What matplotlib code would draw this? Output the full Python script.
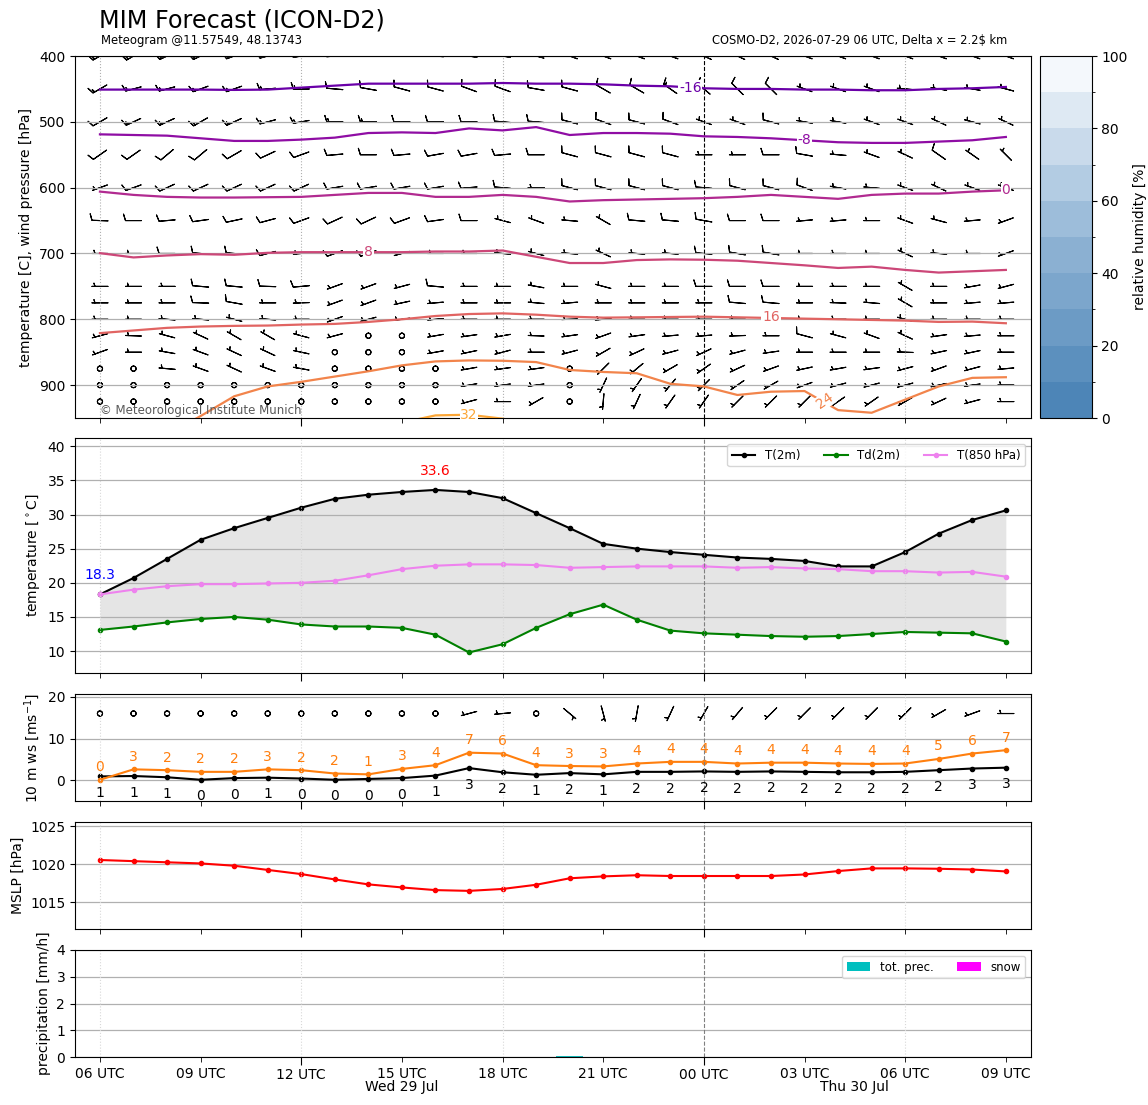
import numpy as np
import pandas as pd
import matplotlib
matplotlib.use("Agg")
import matplotlib.pyplot as plt
import matplotlib.dates as mdates
from matplotlib.colors import LinearSegmentedColormap, BoundaryNorm, Normalize
from matplotlib.cm import ScalarMappable

# --- data ------------------------------------------------------------------
times = pd.date_range("2026-07-29 06:00", periods=28, freq="h")

t2m = [18.3, 20.7, 23.5, 26.3, 28.0, 29.5, 31.0, 32.3, 32.9, 33.3, 33.6, 33.3, 32.4, 30.2,
       28.0, 25.7, 25.0, 24.5, 24.1, 23.7, 23.5, 23.2, 22.4, 22.4, 24.5, 27.2, 29.2, 30.6]
td2m = [13.1, 13.6, 14.2, 14.7, 15.0, 14.6, 13.9, 13.6, 13.6, 13.4, 12.4, 9.8, 11.0, 13.4,
        15.4, 16.8, 14.6, 13.0, 12.6, 12.4, 12.2, 12.1, 12.2, 12.5, 12.8, 12.7, 12.6, 11.4]
t850 = [18.3, 19.0, 19.5, 19.8, 19.8, 19.9, 20.0, 20.3, 21.1, 22.0, 22.5, 22.7, 22.7, 22.6,
        22.2, 22.3, 22.4, 22.4, 22.4, 22.2, 22.3, 22.1, 22.0, 21.7, 21.7, 21.5, 21.6, 20.9]

ws10 = [0.9, 1.0, 0.7, 0.1, 0.5, 0.6, 0.4, 0.1, 0.3, 0.5, 1.1, 2.9, 1.9, 1.3,
        1.7, 1.4, 2.0, 2.0, 2.1, 2.0, 2.1, 2.0, 1.9, 1.9, 2.0, 2.4, 2.8, 3.0]
gust10 = [0.1, 2.6, 2.4, 2.0, 2.0, 2.6, 2.4, 1.6, 1.4, 2.7, 3.6, 6.6, 6.4, 3.6,
          3.4, 3.3, 4.0, 4.4, 4.4, 4.0, 4.2, 4.2, 4.0, 3.9, 4.0, 5.1, 6.4, 7.2]
# 10 m barbs: direction [deg] and barb speed [kt]
wdir10 = [270, 270, 270, 270, 270, 270, 270, 270, 270, 270, 270, 255, 265, 270,
          130, 165, 190, 205, 210, 220, 225, 225, 225, 225, 225, 240, 250, 270]
wkt10 = [2, 2, 2, 2, 2, 2, 2, 2, 2, 2, 2, 6, 6, 2,
         6, 6, 6, 6, 6, 6, 6, 6, 6, 6, 6, 6, 6, 6]

mslp = [1020.55, 1020.4, 1020.25, 1020.1, 1019.8, 1019.25, 1018.7, 1018.0, 1017.35, 1016.95,
        1016.6, 1016.5, 1016.75, 1017.3, 1018.15, 1018.4, 1018.55, 1018.45, 1018.45, 1018.45,
        1018.45, 1018.65, 1019.1, 1019.45, 1019.45, 1019.4, 1019.3, 1019.05]

precip = [0, 0, 0, 0, 0, 0, 0, 0, 0, 0, 0, 0, 0, 0, 0.03, 0, 0, 0, 0, 0, 0, 0, 0, 0, 0, 0, 0, 0]
snow = [0] * 28

# isotherms: pressure [hPa] of each temperature level at every hour
iso_levels = [-16, -8, 0, 8, 16, 24, 32]
iso_m16 = [451, 451, 451, 451, 451.5, 451, 448, 445, 442, 442, 442, 442, 441, 442,
           442, 443, 445, 446, 449, 450, 450, 451, 451, 452, 452, 450, 449, 447]
iso_m8 = [519, 520, 521, 525, 529, 529, 527, 524, 517, 516, 517, 510, 513, 508,
          520, 517, 517, 518, 522, 523, 525, 528, 531, 532, 532, 530, 528, 523]
iso_0 = [606, 611, 614, 615, 615, 614.5, 614, 611, 608, 608, 614, 614, 611, 614,
         621, 619, 618, 617, 616, 614, 611, 614, 617, 611, 609, 609, 606, 604]
iso_8 = [699.5, 706, 703, 701, 702, 699, 698, 698, 698, 698, 697, 697, 695.5, 705,
         714.5, 714.5, 710, 709, 709.5, 711, 714.5, 718, 722, 720, 725, 729, 727, 725]
iso_16 = [821, 817, 813, 811, 810, 809.5, 808, 807, 804, 800, 795, 792, 791, 793,
          796, 797.5, 797, 796.5, 796, 797, 798, 799, 800, 801, 802, 804, 803.5, 806]
iso_24 = [990, 985, 975, 947, 917, 902, 895, 887, 879, 870, 864, 862.5, 863, 865,
          877, 880, 882, 898, 902, 915, 910, 909, 938, 942, 922, 902, 889, 888]
iso_32 = [1000, 995, 990, 985, 975, 970, 968, 965, 962, 957, 946, 945, 951, 962,
          975, 985, 990, 995, 1000, 1000, 1000, 1000, 1000, 1000, 1000, 1000, 1000, 1000]
iso_lines = [iso_m16, iso_m8, iso_0, iso_8, iso_16, iso_24, iso_32]
# label position (hour after start, pressure, rotation)
iso_labels = [(17.6, 448, 0), (21.0, 527, 0), (27.0, 604, 0), (8.0, 698, 0),
              (20.0, 797, 0), (21.6, 924, 35), (11.0, 945, 0)]

# upper-air wind: direction [deg] and speed [kt] per pressure level
levels = [400, 450, 500, 550, 600, 650, 700, 750, 775, 800, 825, 850, 875, 900, 925]
wdir = [
    [240, 240, 245, 245, 250, 255, 260, 265, 270, 270, 275, 280, 280, 285, 290, 290, 290, 290, 295, 295, 295, 290, 290, 290, 290, 290, 290, 290],
    [240, 255, 255, 250, 250, 265, 270, 275, 280, 285, 285, 290, 290, 280, 285, 300, 300, 305, 310, 315, 315, 290, 290, 290, 275, 280, 280, 285],
    [240, 245, 245, 240, 245, 255, 260, 270, 270, 270, 270, 270, 275, 275, 285, 290, 285, 290, 290, 290, 285, 280, 280, 290, 290, 295, 285, 295],
    [235, 235, 230, 230, 240, 245, 250, 265, 270, 265, 260, 260, 265, 270, 285, 285, 285, 285, 270, 270, 270, 280, 275, 290, 295, 305, 305, 315],
    [250, 250, 245, 245, 245, 245, 245, 260, 260, 260, 260, 265, 275, 270, 285, 285, 285, 285, 275, 285, 285, 290, 280, 275, 290, 295, 290, 290],
    [272, 270, 265, 262, 258, 255, 250, 245, 245, 250, 262, 270, 285, 290, 275, 300, 275, 275, 280, 270, 270, 265, 265, 270, 290, 285, 265, 250],
    [270, 270, 270, 275, 275, 255, 265, 250, 250, 255, 270, 270, 275, 285, 275, 295, 275, 275, 275, 280, 280, 270, 270, 270, 295, 275, 270, 250],
    [270, 270, 270, 275, 275, 272, 265, 250, 250, 255, 275, 270, 270, 280, 270, 285, 270, 270, 270, 270, 270, 270, 270, 270, 300, 270, 260, 255],
    [270, 270, 270, 272, 280, 270, 268, 250, 250, 258, 265, 270, 270, 275, 265, 270, 270, 270, 270, 275, 275, 270, 272, 275, 300, 270, 265, 265],
    [270, 270, 275, 275, 285, 275, 270, 250, 255, 262, 265, 270, 270, 270, 268, 265, 270, 270, 270, 270, 270, 270, 270, 270, 285, 270, 270, 270],
    [255, 272, 285, 295, 300, 300, 285, 255, 270, 270, 260, 262, 260, 272, 262, 250, 262, 265, 265, 268, 270, 285, 285, 290, 295, 262, 265, 270],
    [250, 270, 280, 290, 295, 295, 282, 270, 270, 270, 260, 258, 255, 270, 255, 240, 245, 255, 245, 255, 262, 270, 270, 270, 272, 258, 258, 270],
    [270, 270, 275, 290, 295, 290, 280, 270, 270, 270, 270, 260, 262, 262, 270, 225, 230, 240, 235, 245, 250, 258, 260, 262, 255, 250, 255, 265],
    [270, 270, 270, 270, 270, 270, 270, 270, 270, 270, 270, 260, 262, 262, 270, 205, 215, 220, 225, 235, 240, 250, 255, 255, 255, 258, 262, 270],
    [270, 270, 270, 270, 270, 270, 270, 270, 270, 270, 270, 255, 270, 240, 270, 185, 205, 215, 215, 225, 225, 225, 235, 235, 240, 245, 255, 270],
]
wspd = [
    [17, 17, 17, 17, 17, 17, 17, 12, 12, 12, 12, 12, 12, 12, 12, 12, 12, 12, 12, 12, 12, 12, 12, 12, 12, 12, 12, 12],
    [17, 17, 17, 17, 17, 17, 17, 12, 12, 12, 12, 12, 12, 12, 12, 12, 12, 17, 12, 12, 12, 7, 7, 7, 7, 7, 7, 7],
    [12, 17, 17, 17, 17, 17, 17, 17, 17, 12, 12, 12, 12, 12, 12, 12, 12, 12, 7, 7, 12, 7, 7, 7, 7, 7, 7, 7],
    [12, 12, 12, 12, 12, 12, 12, 12, 12, 12, 12, 12, 12, 12, 12, 12, 12, 12, 7, 7, 12, 12, 7, 7, 7, 12, 7, 7],
    [7, 12, 12, 12, 12, 12, 12, 12, 12, 12, 12, 12, 12, 7, 12, 12, 12, 12, 12, 12, 12, 12, 7, 7, 7, 7, 7, 7],
    [12, 12, 12, 12, 12, 12, 12, 12, 12, 12, 12, 12, 7, 7, 7, 7, 12, 12, 12, 12, 12, 7, 7, 7, 7, 7, 7, 7],
    [7, 7, 12, 12, 12, 12, 7, 12, 12, 7, 7, 7, 7, 7, 7, 7, 7, 7, 12, 12, 12, 7, 7, 7, 7, 7, 7, 7],
    [7, 7, 7, 12, 12, 12, 12, 7, 7, 7, 12, 7, 7, 7, 7, 7, 7, 7, 12, 12, 12, 7, 7, 7, 7, 7, 7, 7],
    [7, 7, 7, 12, 12, 7, 7, 7, 7, 7, 7, 7, 7, 7, 7, 7, 7, 7, 7, 12, 12, 7, 7, 7, 7, 7, 7, 7],
    [7, 7, 7, 7, 7, 7, 7, 7, 7, 7, 7, 7, 7, 7, 7, 7, 7, 7, 7, 7, 7, 7, 7, 7, 7, 7, 7, 7],
    [7, 7, 7, 7, 7, 7, 7, 7, 2, 2, 7, 7, 7, 7, 7, 7, 7, 7, 7, 7, 7, 12, 7, 7, 7, 7, 7, 7],
    [7, 7, 7, 7, 7, 7, 7, 2, 2, 2, 7, 7, 7, 7, 7, 7, 7, 7, 7, 7, 7, 7, 7, 7, 7, 7, 7, 7],
    [2, 2, 7, 7, 7, 7, 7, 2, 2, 2, 2, 7, 7, 7, 2, 7, 7, 7, 7, 7, 7, 7, 7, 7, 7, 7, 7, 7],
    [2, 2, 2, 2, 2, 2, 2, 2, 2, 2, 2, 7, 7, 7, 2, 7, 7, 7, 7, 7, 7, 7, 7, 7, 7, 7, 7, 7],
    [2, 2, 2, 2, 2, 2, 2, 2, 2, 2, 2, 7, 7, 7, 2, 7, 7, 7, 7, 7, 7, 7, 7, 7, 7, 7, 7, 7],
]

rh_levels = [0, 10, 20, 30, 40, 50, 60, 70, 80, 90, 100]

# --- figure ---------------------------------------------------------------
tnum = mdates.date2num(times)
hour = 1.0 / 24
xlim = (tnum[0] - 0.745 * hour, tnum[0] + 27.75 * hour)
barb_len = 4.8
barb_sizes = dict(emptybarb=0.16)

fig = plt.figure(figsize=(11.48, 11.05), dpi=100)
L, W = 0.0653, 0.8328
ax1 = fig.add_axes([L, 0.6217, W, 0.3276])
cax = fig.add_axes([0.906, 0.6217, 0.045, 0.3276])
ax2 = fig.add_axes([L, 0.391, W, 0.2126])
ax3 = fig.add_axes([L, 0.2751, W, 0.0969])
ax4 = fig.add_axes([L, 0.1593, W, 0.0969])
ax5 = fig.add_axes([L, 0.0434, W, 0.0969])
axes = [ax1, ax2, ax3, ax4, ax5]

fig.text(0.086, 0.981, "MIM Forecast (ICON-D2)", fontsize=17.2, va="center")
fig.text(0.088, 0.963, "Meteogram @11.57549, 48.13743", fontsize=8.4, va="center")
fig.text(0.877, 0.963, "COSMO-D2, 2026-07-29 06 UTC, Delta x = 2.2$ km",
         fontsize=8.3, va="center", ha="right")

# panel 1: isotherms + wind barbs
norm_t = Normalize(-32, 48)
for lev, pres, (lh, lp, rot) in zip(iso_levels, iso_lines, iso_labels):
    col = plt.cm.plasma(norm_t(lev))
    ax1.plot(tnum, pres, color=col, lw=1.6, zorder=3)
    ax1.text(tnum[0] + lh * hour, lp, str(lev), color=col, fontsize=10, rotation=rot,
             ha="center", va="center", zorder=4,
             bbox=dict(facecolor="white", edgecolor="none", pad=0.5))

X, Y = np.meshgrid(tnum, levels)
d = np.radians(np.array(wdir, dtype=float))
s = np.array(wspd, dtype=float)
ax1.barbs(X, Y, -s * np.sin(d), -s * np.cos(d), length=barb_len, pivot="middle",
          sizes=barb_sizes, linewidth=0.8, color="black")
ax1.set_ylim(950, 400)
ax1.set_yticks([400, 500, 600, 700, 800, 900])
ax1.set_ylabel("temperature [C], wind pressure [hPa]", fontsize=10)
ax1.yaxis.grid(True, color="#b0b0b0", lw=0.9)
ax1.text(0.026, 0.022, "\u00a9 Meteorological Institute Munich", transform=ax1.transAxes,
         fontsize=8.5, color="0.35", va="center", zorder=5)

cmap_rh = LinearSegmentedColormap.from_list("rh", ["#4d85b7", "#93b6d6", "#f4f8fc"])
sm = ScalarMappable(norm=BoundaryNorm(rh_levels, 256), cmap=cmap_rh)
cb = fig.colorbar(sm, cax=cax, ticks=[0, 20, 40, 60, 80, 100])
cb.set_label("relative humidity [%]", fontsize=10)

# panel 2: temperatures
ax2.fill_between(tnum, t2m, td2m, color="gray", alpha=0.2, lw=0)
ax2.plot(tnum, t2m, color="black", marker=".", lw=1.5, label="T(2m)")
ax2.plot(tnum, td2m, color="green", marker=".", lw=1.5, label="Td(2m)")
ax2.plot(tnum, t850, color="violet", marker=".", lw=1.5, label="T(850 hPa)")
imax, imin = int(np.argmax(t2m)), int(np.argmin(t2m))
ax2.text(tnum[imax], t2m[imax] + 2.2, f"{t2m[imax]:.1f}", color="red", ha="center", fontsize=10)
ax2.text(tnum[imin], t2m[imin] + 2.2, f"{t2m[imin]:.1f}", color="blue", ha="center", fontsize=10)
ax2.set_ylim(6.8, 41.2)
ax2.set_yticks([10, 15, 20, 25, 30, 35, 40])
ax2.set_ylabel("temperature [$^\\circ$C]", fontsize=10)
ax2.legend(loc="upper right", ncol=3, fontsize=8.5)
ax2.yaxis.grid(True, color="#b0b0b0", lw=0.9)

# panel 3: 10 m wind
ax3.plot(tnum, ws10, color="black", marker=".", lw=1.5)
ax3.plot(tnum, gust10, color="C1", marker=".", lw=1.5)
for tt, w, g in zip(tnum, ws10, gust10):
    ax3.text(tt, w - 4, str(round(w)), color="black", ha="center", va="center", fontsize=10)
    ax3.text(tt, g + 3, str(round(g)), color="C1", ha="center", va="center", fontsize=10)
d10 = np.radians(np.array(wdir10, dtype=float))
s10 = np.array(wkt10, dtype=float)
ax3.barbs(tnum, np.full(len(tnum), 16.0), -s10 * np.sin(d10), -s10 * np.cos(d10),
          length=barb_len, pivot="middle", sizes=barb_sizes, linewidth=0.8, color="black")
ax3.set_ylim(-5, 20.7)
ax3.set_yticks([0, 10, 20])
ax3.set_ylabel("10 m ws [ms$^{-1}$]", fontsize=10)
ax3.yaxis.grid(True, color="#b0b0b0", lw=0.9)

# panel 4: MSLP
ax4.plot(tnum, mslp, color="red", marker=".", lw=1.5)
ax4.set_ylim(min(mslp) - 5, max(mslp) + 5)
ax4.set_yticks([1015, 1020, 1025])
ax4.set_ylabel("MSLP [hPa]", fontsize=10)
ax4.yaxis.grid(True, color="#b0b0b0", lw=0.9)

# panel 5: precipitation
ax5.bar(tnum, precip, width=0.8 * hour, color="c", label="tot. prec.")
ax5.bar(tnum, snow, width=0.8 * hour, color="magenta", label="snow")
ax5.set_ylim(0, 4)
ax5.set_yticks([0, 1, 2, 3, 4])
ax5.set_ylabel("precipitation [mm/h]", fontsize=10)
ax5.legend(loc="upper right", ncol=2, fontsize=8.5)
ax5.yaxis.grid(True, color="#b0b0b0", lw=0.9)

# time axis, synoptic lines
for ax in axes:
    ax.set_xlim(*xlim)
    ax.xaxis.set_major_locator(mdates.HourLocator(byhour=[0, 12]))
    ax.xaxis.set_minor_locator(mdates.HourLocator(byhour=[3, 6, 9, 15, 18, 21]))
    ax.xaxis.set_major_formatter(mdates.DateFormatter("%H UTC"))
    ax.xaxis.set_minor_formatter(mdates.DateFormatter("%H UTC"))
    ax.tick_params(axis="x", which="major", length=5.5, pad=2.5)
    ax.tick_params(axis="x", which="minor", length=3.5, pad=3.5)
    for h in [0, 6, 12, 24]:
        ax.axvline(tnum[0] + h * hour, color="#b0b0b0" if ax is ax1 else "#d8d8d8",
                   ls=":", lw=0.8)
    ax.axvline(tnum[18], color="black" if ax is ax1 else "gray", ls="--", lw=0.8)
    if ax is not ax5:
        ax.tick_params(axis="x", which="both", labelbottom=False)

xt = ax5.get_xaxis_transform()
ax5.text(tnum[0] + 9 * hour, -0.28, "Wed 29 Jul", transform=xt, ha="center", va="center", fontsize=10)
ax5.text(tnum[0] + 22.5 * hour, -0.28, "Thu 30 Jul", transform=xt, ha="center", va="center", fontsize=10)

fig.savefig("out.png", dpi=100)
